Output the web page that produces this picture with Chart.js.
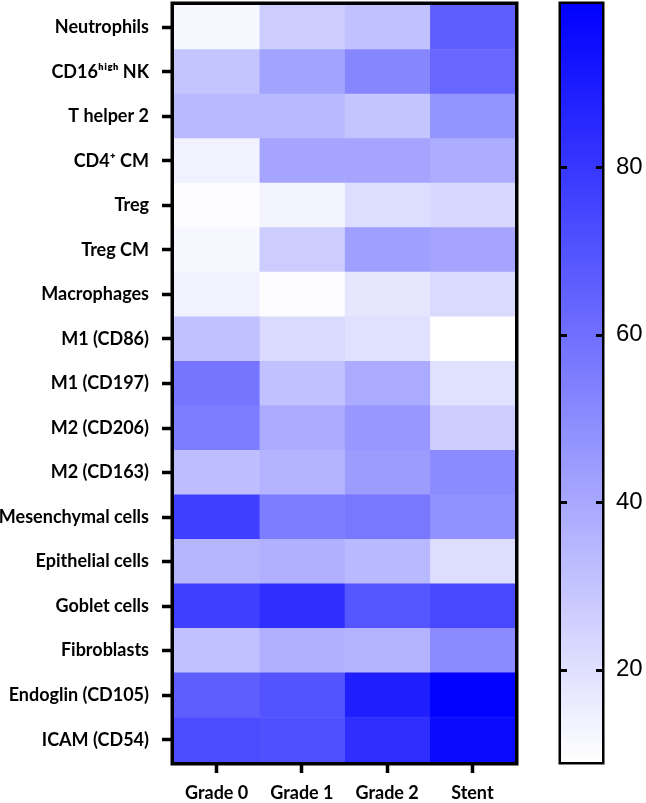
<!DOCTYPE html>
<html>
<head>
<meta charset="utf-8">
<script src="https://cdn.jsdelivr.net/npm/chart.js@4/dist/chart.umd.min.js"></script>
<style>
  body { margin: 0; background: #fff; overflow: hidden; }
  #wrap { position: relative; width: 646px; height: 803px; overflow: hidden; }
  #heat { position: absolute; left: 0; top: 0; }
  #scale { position: absolute; left: 530px; top: 0; }
</style>
</head>
<body>
<div id="wrap">
  <canvas id="heat" width="646" height="803"></canvas>
  <canvas id="scale" width="116" height="803"></canvas>
</div>
<script>
// rows (top to bottom) and columns of the heatmap
var rows = ["Neutrophils", "CD16\u02b0\u2071\u1d4d\u02b0 NK", "T helper 2", "CD4\u207a CM", "Treg", "Treg CM",
  "Macrophages", "M1 (CD86)", "M1 (CD197)", "M2 (CD206)", "M2 (CD163)", "Mesenchymal cells",
  "Epithelial cells", "Goblet cells", "Fibroblasts", "Endoglin (CD105)", "ICAM (CD54)"];
var columns = ["Grade 0", "Grade 1", "Grade 2", "Stent"];

// values per column, same order as rows
var grade0 = [12, 30, 34, 14, 10, 12, 14, 31, 58, 55, 32, 77, 35, 77, 31, 66, 73];
var grade1 = [27, 42, 34, 41, 13, 27, 10, 22, 31, 39, 36, 55, 37, 83, 37, 70, 71];
var grade2 = [31, 52, 30, 41, 21, 43, 18, 20, 39, 46, 44, 57, 34, 69, 36, 89, 83];
var stent  = [66, 63, 47, 38, 23, 41, 22, 9, 20, 27, 50, 48, 21, 74, 50, 99, 96];

var scaleMin = 9, scaleMax = 99.5;
var scaleTicks = [20, 40, 60, 80];

function colorFor(v) {
  var t = (v - scaleMin) / (scaleMax - scaleMin);
  t = Math.max(0, Math.min(1, t));
  var c = Math.round(255 * (1 - t));
  return 'rgb(' + c + ',' + c + ',255)';
}

var frame = {
  id: 'frame',
  afterDatasetsDraw: function(chart, args, opts) {
    var a = chart.chartArea, ctx = chart.ctx;
    ctx.save();
    ctx.strokeStyle = '#000';
    ctx.lineWidth = opts.width;
    ctx.strokeRect(a.left - opts.width / 2, a.top - opts.width / 2,
      a.right - a.left + opts.width, a.bottom - a.top + opts.width);
    ctx.restore();
  }
};

Chart.defaults.font.family = "Lato, 'Open Sans', sans-serif";
Chart.defaults.color = '#000';

var cols = [grade0, grade1, grade2, stent];
var datasets = cols.map(function(vals, c) {
  return {
    label: columns[c],
    data: vals.map(function() { return [c, c + 1]; }),
    backgroundColor: vals.map(colorFor),
    borderWidth: 0,
    grouped: false,
    barPercentage: 1,
    categoryPercentage: 1
  };
});

new Chart(document.getElementById('heat'), {
  type: 'bar',
  data: { labels: rows, datasets: datasets },
  plugins: [frame],
  options: {
    indexAxis: 'y',
    responsive: false,
    animation: false,
    devicePixelRatio: 1,
    layout: { padding: { top: 5, right: 131, left: 0, bottom: 0 } },
    plugins: { legend: { display: false }, tooltip: { enabled: false }, frame: { width: 3.5 } },
    scales: {
      x: {
        type: 'linear', min: 0, max: 4,
        afterBuildTicks: function(s) { s.ticks = [0.5, 1.5, 2.5, 3.5].map(function(v) { return { value: v }; }); },
        afterFit: function(s) { s.height = 41; s.paddingLeft = 0; s.paddingRight = 0; },
        border: { display: false },
        grid: { drawOnChartArea: false, tickLength: 11, tickWidth: 3.5, color: '#000' },
        ticks: {
          padding: 9,
          font: { size: 18, weight: 'bold' },
          callback: function(v, i) { return columns[i]; }
        }
      },
      y: {
        afterFit: function(s) { s.width = 174; s.paddingTop = 0; s.paddingBottom = 0; },
        border: { display: false },
        grid: { offset: false, drawOnChartArea: false, tickLength: 12, tickWidth: 3.5, color: '#000' },
        ticks: { padding: 13, font: { size: 18, weight: 'bold' } }
      }
    }
  }
});

// colour bar
var innerTicks = {
  id: 'innerTicks',
  afterDatasetsDraw: function(chart) {
    var a = chart.chartArea, ctx = chart.ctx, y = chart.scales.y;
    ctx.save();
    ctx.strokeStyle = '#000';
    ctx.lineWidth = 3;
    y.ticks.forEach(function(t) {
      var py = Math.round(y.getPixelForValue(t.value)) + 0.5;
      ctx.beginPath();
      ctx.moveTo(a.left, py); ctx.lineTo(a.left + 6, py);
      ctx.moveTo(a.right - 6, py); ctx.lineTo(a.right, py);
      ctx.stroke();
    });
    ctx.restore();
  }
};

new Chart(document.getElementById('scale'), {
  type: 'bar',
  data: {
    labels: [''],
    datasets: [{
      data: [[scaleMin, scaleMax]],
      borderWidth: 0,
      barPercentage: 1,
      categoryPercentage: 1,
      backgroundColor: function(ctx) {
        var a = ctx.chart.chartArea;
        if (!a) return '#fff';
        var g = ctx.chart.ctx.createLinearGradient(0, a.bottom, 0, a.top);
        g.addColorStop(0, colorFor(scaleMin));
        g.addColorStop(1, colorFor(scaleMax));
        return g;
      }
    }]
  },
  plugins: [frame, innerTicks],
  options: {
    responsive: false,
    animation: false,
    devicePixelRatio: 1,
    layout: { padding: { top: 4, left: 31, bottom: 41, right: 0 } },
    plugins: { legend: { display: false }, tooltip: { enabled: false }, frame: { width: 2.5 } },
    scales: {
      x: { display: false },
      y: {
        position: 'right',
        min: scaleMin, max: scaleMax,
        afterBuildTicks: function(s) { s.ticks = scaleTicks.map(function(v) { return { value: v }; }); },
        afterFit: function(s) { s.width = 44; s.paddingTop = 0; s.paddingBottom = 0; },
        border: { display: false },
        grid: { display: false },
        ticks: { padding: 6, font: { family: "'Liberation Sans', Arial, sans-serif", size: 24 } }
      }
    }
  }
});
</script>
</body>
</html>
